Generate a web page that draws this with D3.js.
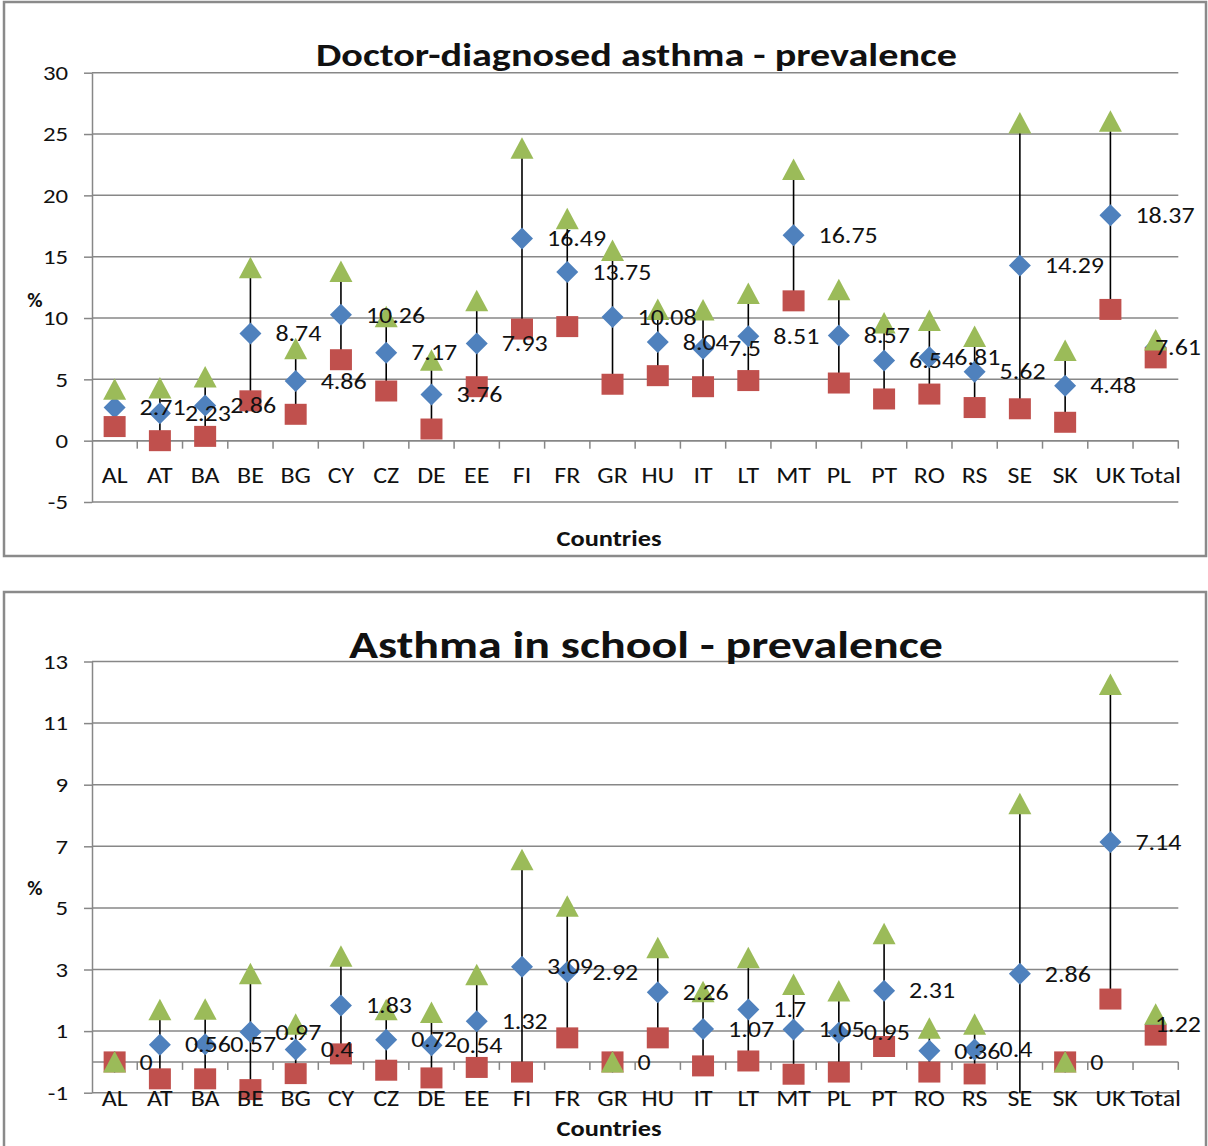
<!DOCTYPE html>
<html>
<head>
<meta charset="utf-8">
<script src="https://cdn.jsdelivr.net/npm/d3@7"></script>
<style>
  body { margin: 0; background: #fff; }
  svg { display: block; }
  text { font-family: Carlito, Calibri, Lato, sans-serif; fill: #111; }
</style>
</head>
<body>
<svg id="chart" width="1208" height="1146"></svg>
<script>
// Countries on the category axis
const countries = ["AL","AT","BA","BE","BG","CY","CZ","DE","EE","FI","FR","GR","HU","IT","LT","MT","PL","PT","RO","RS","SE","SK","UK","Total"];

// Doctor-diagnosed asthma: prevalence (%) with lower / upper bounds
const doctorMean = [2.71,2.23,2.86,8.74,4.86,10.26,7.17,3.76,7.93,16.49,13.75,10.08,8.04,7.5,8.51,16.75,8.57,6.54,6.81,5.62,14.29,4.48,18.37,7.61];
const doctorLow  = [1.15,0,0.35,3.25,2.15,6.6,4.05,0.95,4.4,9.1,9.3,4.6,5.3,4.4,4.9,11.4,4.7,3.4,3.8,2.7,2.6,1.5,10.7,6.75];
const doctorHigh = [4.2,4.3,5.2,14.1,7.5,13.8,10.1,6.55,11.4,23.85,18.1,15.5,10.7,10.65,12.0,22.1,12.3,9.6,9.8,8.5,25.9,7.35,26.05,8.2];
const doctorTicks = [-5,0,5,10,15,20,25,30];

// Asthma in school: prevalence (%) with lower / upper bounds
const schoolMean = [0,0.56,0.57,0.97,0.4,1.83,0.72,0.54,1.32,3.09,2.92,0,2.26,1.07,1.7,1.05,0.95,2.31,0.36,0.4,2.86,0,7.14,1.22];
const schoolLow  = [0,-0.55,-0.55,-0.9,-0.38,0.26,-0.27,-0.52,-0.18,-0.33,0.78,0,0.78,-0.13,0.03,-0.4,-0.33,0.5,-0.33,-0.39,-2.66,0,2.04,0.87];
const schoolHigh = [0,1.69,1.71,2.86,1.22,3.43,1.69,1.6,2.83,6.56,5.05,0,3.71,2.28,3.38,2.51,2.3,4.16,1.09,1.22,8.38,0,12.25,1.55];
const schoolTicks = [-1,1,3,5,7,9,11,13];

const svg = d3.select("#chart");

const COLORS = { mean: "#4F81BD", low: "#C0504D", high: "#9BBB59", grid: "#878787", border: "#8a8a8a" };
const FONT = "Carlito, Calibri, Lato, sans-serif";
const STRETCH = 1.18;      // horizontal stretch of the regular label text
const TICK_SIZE = 21;
const VALUE_SIZE = 22;
const RIGHT_LIMIT = 1201;  // value labels stay inside the frame

const diamondPath  = "M0,-11L11,0L0,11L-11,0Z";
const squarePath   = "M-11,-10.5H11V10.5H-11Z";
const trianglePath = "M0,-11L11.5,10.5L-11.5,10.5Z";

// widen text horizontally around its own x anchor
function stretch(sel, s) {
  sel.each(function () {
    const t = d3.select(this);
    const x = +(t.attr("x") || 0);
    t.attr("transform", `translate(${x},0) scale(${s},1) translate(${-x},0)`);
  });
}

function drawPanel(cfg) {
  const g = svg.append("g");

  // outer frame
  g.append("rect")
    .attr("x", cfg.box[0]).attr("y", cfg.box[1])
    .attr("width", cfg.box[2]).attr("height", cfg.box[3])
    .attr("fill", "#fff").attr("stroke", COLORS.border).attr("stroke-width", 2.5);

  const x = d3.scaleBand().domain(countries).range([92, 1178.3]).paddingInner(0).paddingOuter(0);
  const y = d3.scaleLinear().domain(cfg.domain).range(cfg.yRange);
  const yc = y.copy().clamp(true);
  const cx = c => x(c) + x.bandwidth() / 2;
  const inRange = v => v >= cfg.domain[0] && v <= cfg.domain[1];

  // horizontal gridlines
  g.append("g").selectAll("line").data(cfg.ticks).join("line")
    .attr("x1", 92).attr("x2", 1178.3)
    .attr("y1", d => y(d)).attr("y2", d => y(d))
    .attr("stroke", COLORS.grid).attr("stroke-width", 1.5);

  // value axis
  const yAxis = g.append("g").attr("transform", "translate(92,0)")
    .call(d3.axisLeft(y).tickValues(cfg.ticks).tickSize(8).tickSizeOuter(0).tickPadding(16).tickFormat(d => String(d)));
  yAxis.select(".domain").attr("stroke", COLORS.grid).attr("stroke-width", 1.5);
  yAxis.selectAll(".tick line").attr("stroke", COLORS.grid).attr("stroke-width", 1.5);
  yAxis.selectAll(".tick text").attr("font-size", TICK_SIZE).attr("fill", "#111")
    .style("font-family", FONT).call(stretch, STRETCH);

  // category axis on the zero line, ticks between categories
  const y0 = y(0);
  g.append("line").attr("x1", 92).attr("x2", 1178.3).attr("y1", y0).attr("y2", y0)
    .attr("stroke", COLORS.grid).attr("stroke-width", 1.5);
  g.append("g").selectAll("line").data(countries).join("line")
    .attr("x1", d => x(d) + x.bandwidth()).attr("x2", d => x(d) + x.bandwidth())
    .attr("y1", y0).attr("y2", y0 + 8)
    .attr("stroke", COLORS.grid).attr("stroke-width", 1.5);

  // high-low lines
  g.append("g").selectAll("line").data(countries).join("line")
    .attr("x1", cx).attr("x2", cx)
    .attr("y1", (d, i) => yc(cfg.low[i])).attr("y2", (d, i) => yc(cfg.high[i]))
    .attr("stroke", "#000").attr("stroke-width", 1.6);

  // markers: mean (diamond), lower bound (square), upper bound (triangle)
  const series = [
    { vals: cfg.mean, path: diamondPath, color: COLORS.mean },
    { vals: cfg.low,  path: squarePath,  color: COLORS.low },
    { vals: cfg.high, path: trianglePath, color: COLORS.high }
  ];
  series.forEach(s => {
    g.append("g").selectAll("path")
      .data(countries.map((c, i) => ({ c, v: s.vals[i] })).filter(d => inRange(d.v)))
      .join("path")
      .attr("d", s.path)
      .attr("transform", d => `translate(${cx(d.c)},${y(d.v)})`)
      .attr("fill", s.color);
  });

  // category labels
  const xAxis = g.append("g").attr("transform", `translate(0,${y0})`)
    .call(d3.axisBottom(x).tickSize(0).tickPadding(0));
  xAxis.select(".domain").remove();
  xAxis.selectAll(".tick text").attr("y", cfg.catOffset).attr("dy", "0.35em")
    .attr("font-size", TICK_SIZE + 1).attr("fill", "#111")
    .style("font-family", FONT).call(stretch, STRETCH);

  // value labels to the right of each mean marker, kept inside the frame
  g.append("g").selectAll("text").data(countries).join("text")
    .attr("y", (d, i) => y(cfg.mean[i]))
    .attr("dy", "0.35em")
    .attr("font-size", VALUE_SIZE)
    .text((d, i) => String(cfg.mean[i]))
    .each(function (d) {
      const w = this.getComputedTextLength() * STRETCH;
      const x0 = Math.min(cx(d) + 25, RIGHT_LIMIT - w);
      d3.select(this).attr("x", x0);
    })
    .call(stretch, STRETCH);

  // title
  g.append("text")
    .attr("x", cfg.title.x).attr("y", cfg.title.y)
    .attr("text-anchor", "middle")
    .attr("font-size", cfg.title.size).attr("font-weight", "bold")
    .attr("textLength", cfg.title.w).attr("lengthAdjust", "spacingAndGlyphs")
    .text(cfg.title.text);

  // axis titles
  g.append("text")
    .attr("x", 609).attr("y", cfg.xTitleY)
    .attr("text-anchor", "middle").attr("font-size", 22).attr("font-weight", "bold")
    .attr("textLength", 105).attr("lengthAdjust", "spacingAndGlyphs")
    .text("Countries");
  g.append("text")
    .attr("x", 35).attr("y", cfg.pctY).attr("dy", "0.35em")
    .attr("text-anchor", "middle").attr("font-size", 21).attr("font-weight", "bold")
    .text("%");
}

drawPanel({
  box: [4, 2, 1202, 554],
  domain: [-5, 30], yRange: [502, 72.7], ticks: doctorTicks,
  mean: doctorMean, low: doctorLow, high: doctorHigh,
  catOffset: 35,
  title: { text: "Doctor-diagnosed asthma - prevalence", x: 636.5, y: 66, size: 33, w: 641 },
  xTitleY: 546, pctY: 300
});

drawPanel({
  box: [4, 592, 1202, 600],
  domain: [-1, 13], yRange: [1092.7, 661.5], ticks: schoolTicks,
  mean: schoolMean, low: schoolLow, high: schoolHigh,
  catOffset: 36,
  title: { text: "Asthma in school - prevalence", x: 646, y: 658, size: 38, w: 594 },
  xTitleY: 1136, pctY: 888
});
</script>
</body>
</html>
